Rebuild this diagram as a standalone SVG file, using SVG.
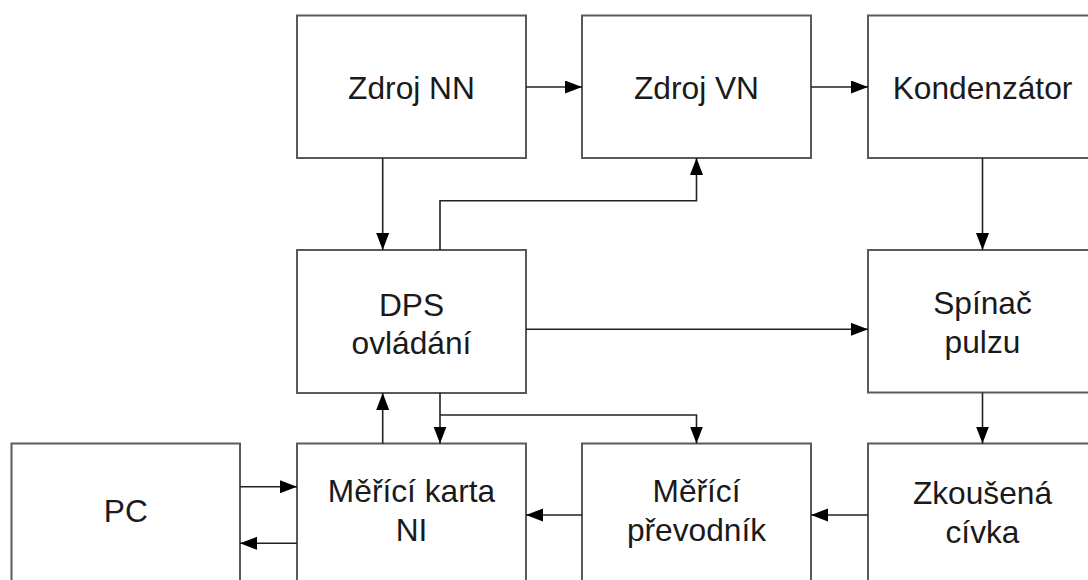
<svg xmlns="http://www.w3.org/2000/svg" width="1088" height="580" viewBox="0 0 1088 580">
<style>
.box{fill:#fff;stroke:#5a5a5a;stroke-width:2}
.t{font-family:"Liberation Sans",Arial,sans-serif;font-size:31.7px;fill:#1a1a1a;text-anchor:middle}
.c{fill:none;stroke:#222;stroke-width:1.6;marker-end:url(#ah)}
</style>
<defs>
<marker id="ah" markerUnits="userSpaceOnUse" markerWidth="18" markerHeight="14" refX="17" refY="6.5" orient="auto">
<path d="M0,0 L17,6.5 L0,13 z" fill="#000"/>
</marker>
</defs>
<rect width="1088" height="580" fill="#fff"/>
<g id="zdroj-nn"><rect class="box" x="297" y="15.5" width="229" height="142.5"/><text class="t" x="411.5" y="99">Zdroj NN</text></g>
<g id="zdroj-vn"><rect class="box" x="582" y="15.5" width="229" height="142.5"/><text class="t" x="696.5" y="98.5">Zdroj VN</text></g>
<g id="kondenzator"><rect class="box" x="868" y="15.5" width="229" height="142.5"/><text class="t" x="982.5" y="98.5">Kondenzátor</text></g>
<g id="dps"><rect class="box" x="297" y="250" width="229" height="143"/><text class="t" x="411.5" y="316">DPS</text><text class="t" x="411.5" y="354">ovládání</text></g>
<g id="spinac"><rect class="box" x="868" y="250" width="229" height="142.5"/><text class="t" x="982.5" y="314">Spínač</text><text class="t" x="982.5" y="353">pulzu</text></g>
<g id="pc"><rect class="box" x="11.5" y="443.5" width="228.5" height="143"/><text class="t" x="125.8" y="521.5">PC</text></g>
<g id="karta"><rect class="box" x="297" y="443.5" width="229" height="143"/><text class="t" x="411.5" y="502">Měřící karta</text><text class="t" x="411.5" y="541">NI</text></g>
<g id="prevodnik"><rect class="box" x="582" y="443.5" width="229" height="143"/><text class="t" x="696.5" y="502">Měřící</text><text class="t" x="696.5" y="541">převodník</text></g>
<g id="civka"><rect class="box" x="868" y="443.5" width="229" height="143"/><text class="t" x="982.5" y="504">Zkoušená</text><text class="t" x="982.5" y="543">cívka</text></g>
<g id="connectors">
<path class="c" d="M526,87 H582"/>
<path class="c" d="M811,87 H868"/>
<path class="c" d="M382.7,158 V250"/>
<path class="c" d="M440,250 V200.7 H696.5 V158"/>
<path class="c" d="M982.5,158 V250"/>
<path class="c" d="M526,329.3 H868"/>
<path class="c" d="M982.5,392.5 V443.5"/>
<path class="c" d="M382.7,443.5 V393"/>
<path class="c" d="M440,393 V443.5"/>
<path class="c" d="M440,415 H696.5 V443.5"/>
<path class="c" d="M868,515 H811"/>
<path class="c" d="M582,515 H526"/>
<path class="c" d="M240,486.7 H297"/>
<path class="c" d="M297,543.3 H240"/>
</g>
</svg>
